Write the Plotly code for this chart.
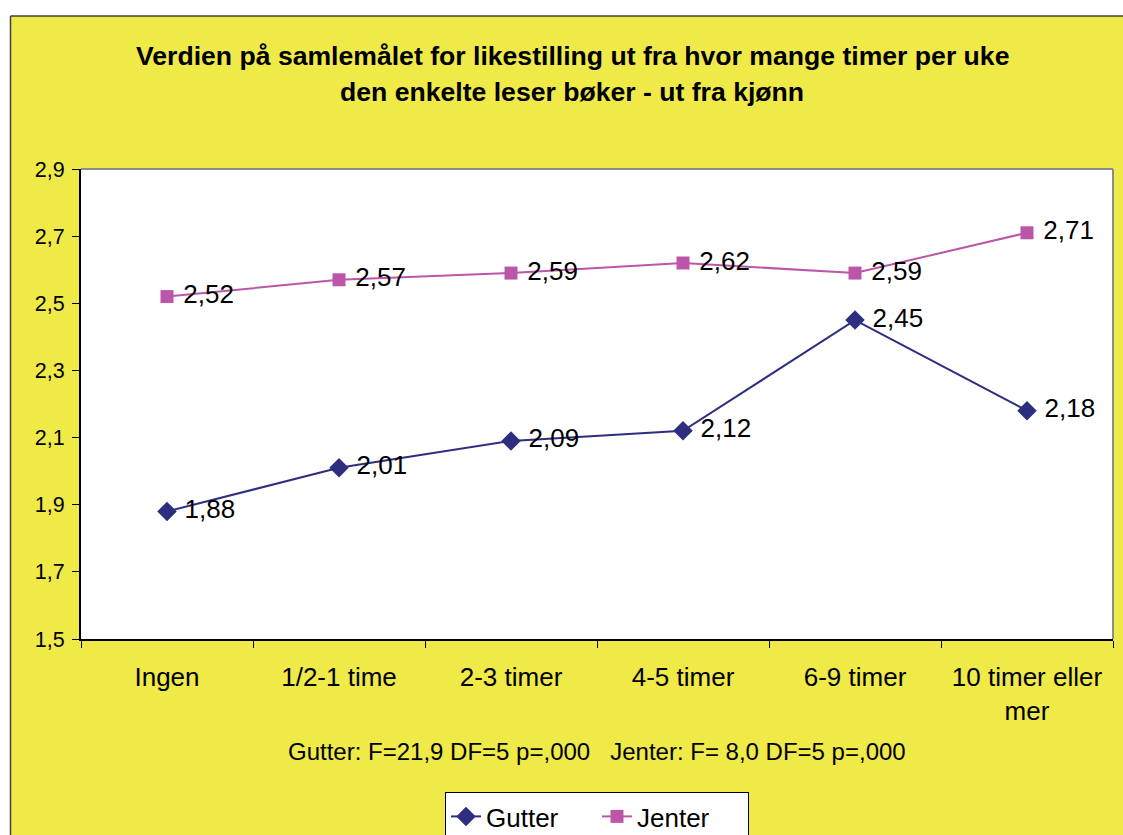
import plotly.graph_objects as go

# Reading time per week and mean score on the gender-equality index
categories = ["Ingen", "1/2-1 time", "2-3 timer", "4-5 timer", "6-9 timer", "10 timer eller<br>mer"]
gutter = [1.88, 2.01, 2.09, 2.12, 2.45, 2.18]
jenter = [2.52, 2.57, 2.59, 2.62, 2.59, 2.71]
y_ticks = [1.5, 1.7, 1.9, 2.1, 2.3, 2.5, 2.7, 2.9]

title_lines = [
    "Verdien på samlemålet for likestilling ut fra hvor mange timer per uke",
    "den enkelte leser bøker - ut fra kjønn",
]
stats_note = "Gutter: F=21,9 DF=5 p=,000   Jenter: F= 8,0 DF=5 p=,000"

YELLOW = "#EFEA48"
NAVY = "#2E2E80"
PINK = "#BB56A9"
FONT = "Liberation Sans, Arial, sans-serif"

W, H = 1123, 835
L, R, T, B = 81, 10, 169, 196
pw, ph = W - L - R, H - T - B


def px_x(x):
    return (x - L) / pw


def px_y(y):
    return (H - B - y) / ph


fig = go.Figure()
fig.add_trace(go.Scatter(
    x=categories, y=gutter, name="Gutter", mode="lines+markers+text",
    line=dict(color=NAVY, width=2),
    marker=dict(symbol="diamond", size=15, color=NAVY),
    texttemplate=" %{y:.2f}", textposition="middle right",
    textfont=dict(size=26, color="black", family=FONT),
))
fig.add_trace(go.Scatter(
    x=categories, y=jenter, name="Jenter", mode="lines+markers+text",
    line=dict(color=PINK, width=2),
    marker=dict(symbol="square", size=13, color=PINK),
    texttemplate=" %{y:.2f}", textposition="middle right",
    textfont=dict(size=26, color="black", family=FONT),
))

shapes = [
    # white page strips around the yellow frame
    dict(type="rect", xref="paper", yref="paper", x0=-0.2, x1=1.2,
         y0=px_y(16), y1=px_y(-20), fillcolor="white", line=dict(width=0), layer="above"),
    dict(type="rect", xref="paper", yref="paper", x0=-0.2, x1=px_x(10),
         y0=px_y(900), y1=px_y(-20), fillcolor="white", line=dict(width=0), layer="above"),
    # frame edges
    dict(type="line", xref="paper", yref="paper", x0=px_x(10.5), x1=1.1,
         y0=px_y(16), y1=px_y(16), line=dict(color="#404040", width=1.5)),
    dict(type="line", xref="paper", yref="paper", x0=px_x(10.5), x1=px_x(10.5),
         y0=px_y(16), y1=px_y(900), line=dict(color="#404040", width=1.5)),
    # plot area outline (top and right)
    dict(type="line", xref="paper", yref="paper", x0=0, x1=1, y0=1, y1=1,
         line=dict(color="#8C8C8C", width=2)),
    dict(type="line", xref="paper", yref="paper", x0=1, x1=1, y0=0, y1=1,
         line=dict(color="#8C8C8C", width=2)),
]

annotations = [
    dict(text=title_lines[0], xref="paper", yref="paper", x=px_x(572), y=px_y(56),
         showarrow=False, xanchor="center", yanchor="middle",
         font=dict(size=26.6, family=FONT, color="black", weight="bold")),
    dict(text=title_lines[1], xref="paper", yref="paper", x=px_x(572), y=px_y(92),
         showarrow=False, xanchor="center", yanchor="middle",
         font=dict(size=26.6, family=FONT, color="black", weight="bold")),
    dict(text=stats_note, xref="paper", yref="paper", x=px_x(597), y=px_y(751),
         showarrow=False, xanchor="center", yanchor="middle",
         font=dict(size=24, family=FONT, color="black")),
]

fig.update_layout(
    width=W, height=H,
    margin=dict(l=L, r=R, t=T, b=B, autoexpand=False),
    paper_bgcolor=YELLOW, plot_bgcolor="white",
    separators=",.",
    font=dict(family=FONT, color="black"),
    showlegend=True,
    legend=dict(
        orientation="h", x=px_x(445), y=px_y(792), xanchor="left", yanchor="top",
        bgcolor="white", bordercolor="black", borderwidth=1,
        font=dict(size=26, family=FONT, color="black"),
        entrywidth=106,
    ),
    shapes=shapes,
    annotations=annotations,
)
fig.update_xaxes(
    type="category", range=[-0.5, 5.5],
    showline=True, linecolor="black", linewidth=2,
    ticks="outside", tickson="boundaries", ticklen=7, tickcolor="black",
    showgrid=False, tickfont=dict(size=26, family=FONT),
    ticklabelstandoff=14,
)
fig.update_yaxes(
    range=[1.5, 2.9], tickvals=y_ticks, tickformat=".1f",
    showline=True, linecolor="black", linewidth=2,
    ticks="outside", ticklen=7, tickcolor="black",
    showgrid=False, zeroline=False, tickfont=dict(size=21.5, family=FONT),
    ticklabelstandoff=3,
)

fig.write_html("out.html")
